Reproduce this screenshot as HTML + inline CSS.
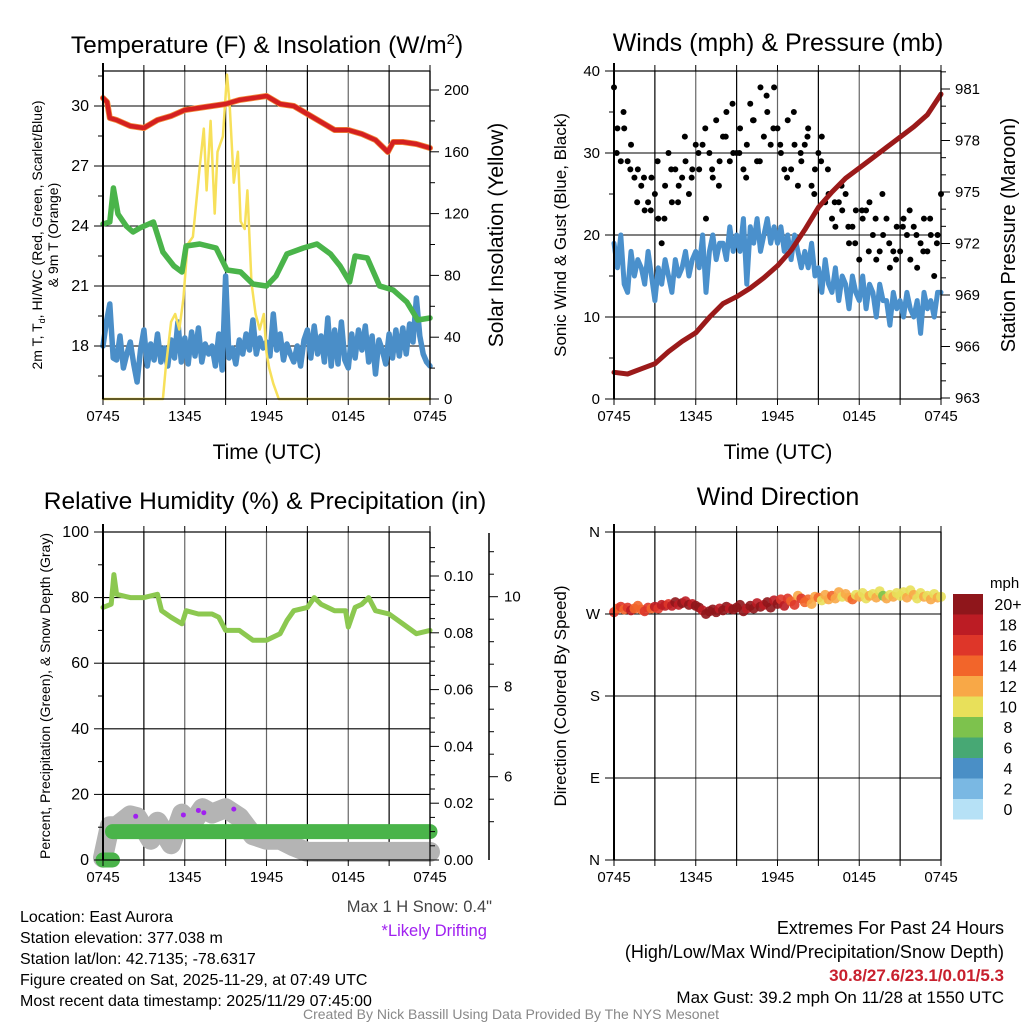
<!DOCTYPE html>
<html><head><meta charset="utf-8">
<style>
html,body{margin:0;padding:0;background:#fff;}
svg{display:block;font-family:"Liberation Sans",sans-serif;}
</style></head>
<body>
<svg id="fig" width="1024" height="1024" viewBox="0 0 1024 1024" xmlns="http://www.w3.org/2000/svg">
<rect x="0" y="0" width="1024" height="1024" fill="#fff"/>
<g id="bg"></g>
<g id="marks"></g>
<g id="fg"></g>
<text x="267" y="53" font-size="24.5" text-anchor="middle">Temperature (F) &amp; Insolation (W/m<tspan font-size="15" dy="-9">2</tspan><tspan dy="9">)</tspan></text>
<text x="778" y="51" font-size="25" text-anchor="middle">Winds (mph) &amp; Pressure (mb)</text>
<text x="265" y="509" font-size="24.5" text-anchor="middle">Relative Humidity (%) &amp; Precipitation (in)</text>
<text x="778" y="505" font-size="25" text-anchor="middle">Wind Direction</text>
<text x="267" y="459" font-size="21" text-anchor="middle">Time (UTC)</text>
<text x="778" y="459" font-size="21" text-anchor="middle">Time (UTC)</text>
<text transform="translate(42,235) rotate(-90)" font-size="14" text-anchor="middle">2m T, T<tspan font-size="9" dy="3">d</tspan><tspan dy="-3">, HI/WC (Red, Green, Scarlet/Blue)</tspan></text>
<text transform="translate(58,235) rotate(-90)" font-size="14" text-anchor="middle">&amp; 9m T (Orange)</text>
<text transform="translate(503,235) rotate(-90)" font-size="21" text-anchor="middle">Solar Insolation (Yellow)</text>
<text transform="translate(566,235) rotate(-90)" font-size="17" text-anchor="middle">Sonic Wind &amp; Gust (Blue, Black)</text>
<text transform="translate(1015,235) rotate(-90)" font-size="20" text-anchor="middle">Station Pressure (Maroon)</text>
<text transform="translate(50,696) rotate(-90)" font-size="14" text-anchor="middle">Percent, Precipitation (Green), &amp; Snow Depth (Gray)</text>
<text transform="translate(566,696) rotate(-90)" font-size="17" text-anchor="middle">Direction (Colored By Speed)</text>
<g font-size="16">
<text x="20" y="922">Location: East Aurora</text>
<text x="20" y="943">Station elevation: 377.038 m</text>
<text x="20" y="964">Station lat/lon: 42.7135; -78.6317</text>
<text x="20" y="985">Figure created on Sat, 2025-11-29, at 07:49 UTC</text>
<text x="20" y="1006">Most recent data timestamp: 2025/11/29 07:45:00</text>
</g>
<text x="492" y="912" font-size="16.5" fill="#444" text-anchor="end">Max 1 H Snow: 0.4"</text>
<text x="487" y="936" font-size="16.5" fill="#a020f0" text-anchor="end">*Likely Drifting</text>
<text x="1004" y="934" font-size="18" text-anchor="end">Extremes For Past 24 Hours</text>
<text x="1004" y="958" font-size="18" text-anchor="end">(High/Low/Max Wind/Precipitation/Snow Depth)</text>
<text x="1004" y="981" font-size="17" font-weight="bold" fill="#c8202e" text-anchor="end">30.8/27.6/23.1/0.01/5.3</text>
<text x="1004" y="1003" font-size="17" text-anchor="end">Max Gust: 39.2 mph On 11/28 at 1550 UTC</text>
<text x="511" y="1019" font-size="14" fill="#888" text-anchor="middle">Created By Nick Bassill Using Data Provided By The NYS Mesonet</text>
</svg>
<script>
const xTickLabels = ["0745","1345","1945","0145","0745"];
const tempHours = [0,0.3,0.5,1,2,3,4,5,6,7,8,9,10,11,12,13,14,15,16,17,18,19,20,20.9,21.3,22,23,24];
const tempValues = [30.4,30.2,29.4,29.3,29.0,28.9,29.3,29.5,29.8,29.9,30.0,30.1,30.3,30.4,30.5,30.1,30.0,29.6,29.2,28.8,28.8,28.6,28.3,27.7,28.2,28.2,28.1,27.9];
const dewHours = [0,0.5,0.76,1.1,1.7,2.2,2.7,3.7,4.4,5.2,5.8,6.1,7.1,8.3,9.1,10.1,11.0,12.0,12.7,13.5,14.7,15.7,16.7,17.4,18.1,18.5,19.4,20.3,21.3,22.3,23.1,24];
const dewValues = [24.1,24.2,25.9,24.6,24.0,23.7,23.9,24.2,22.7,22.0,21.7,23.0,23.1,22.9,21.8,21.7,21.1,21.0,21.5,22.6,22.9,23.1,22.6,22.0,21.2,22.5,22.4,21.0,20.8,20.2,19.3,19.4];
const chillValues = [18.0,19.2,20.1,17.4,17.3,18.5,16.9,17.6,18.2,17.1,16.2,17.8,18.8,17.0,18.1,17.3,18.6,17.2,17.9,17.0,18.3,17.4,19.2,17.2,18.4,17.1,18.7,17.5,18.9,17.2,18.1,17.6,18.0,17.0,18.6,16.8,21.5,17.4,17.9,17.1,18.3,17.6,18.6,17.8,19.3,17.6,18.4,17.9,18.2,17.5,19.6,17.8,18.6,17.3,18.1,17.6,17.2,18.0,17.0,18.3,18.8,17.4,19.0,17.6,18.5,17.2,19.4,17.0,18.8,17.1,19.2,17.3,16.9,18.6,17.4,18.8,17.8,19.0,17.2,18.5,16.6,18.3,17.8,17.1,18.6,17.4,18.8,17.5,18.9,17.6,19.1,18.2,20.4,18.5,17.6,17.2,17.0];
const solarHours = [0,4.4,4.6,5.0,5.3,5.6,5.9,6.2,6.6,7.1,7.4,7.6,7.9,8.2,8.4,8.8,9.1,9.3,9.6,9.9,10.1,10.4,10.6,10.9,11.2,11.5,11.8,12.0,12.2,12.5,12.9,24];
const solarValues = [0,0,20,50,55,45,65,100,105,150,175,135,180,120,160,170,210,190,140,160,115,110,135,75,55,45,55,30,20,10,0,0];
const windValues = [19,16,20,14,13,18,15,17,16,14,18,15,12,16,14,17,15,13,17,15,16,18,15,17,18,16,20,13,18,20,17,19,19,17,21,18,20,18,22,14,21,19,22,18,20,22,19,21,19,21,18,20,17,20,18,16,18,16,19,15,16,13,17,14,13,16,12,15,14,11,15,13,12,15,11,14,13,10,14,12,12,9,13,11,12,10,13,11,10,12,8,13,11,12,10,13,13];
const gustValues = [38,33,29,33,29,31,27,28,26,23,24,27,25,22,19,26,30,24,28,26,27,29,25,28,31,28,31,22,30,27,34,29,32,35,29,30,30,33,28,31,36,34,29,38,32,35,31,38,33,30,28,34,28,31,26,29,31,33,26,28,30,32,24,25,22,21,24,23,25,19,21,23,17,22,23,24,20,17,18,20,22,16,18,21,18,22,20,17,21,16,19,22,18,20,15,20,25];
const gust2Values = [30,35,28,24,27,23,29,22,28,24,32,27,30,33,28,26,32,36,30,27,34,29,37,33,31,27,35,30,32,25,29,28,24,26,21,19,23,18,22,25,19,17,21,23,20,18,22,19];
const pressureValues = [964.5,964.4,964.7,965.0,965.7,966.3,966.8,967.7,968.5,968.9,969.4,970.0,970.7,971.6,972.8,974.1,975.0,975.8,976.4,977.0,977.6,978.2,978.8,979.5,980.7];
const rhHours = [0,0.6,0.8,1.0,2,3,4,4.3,5,5.8,6.1,7,8,8.5,9,10,11,12,13,13.5,14,15,15.5,16,17,17.8,18,18.5,19,19.5,20,21,22,23,24];
const rhValues = [77,78,87,81,80,80,81,76,74,72,76,75,75,74,70,70,67,67,69,73,76,77,80,78,76,76,71,77,78,80,76,75,72,69,70];
const precipHours = [0,0.7,0.7,24];
const precipValues = [0,0,0.01,0.01];
const snowHours = [0,0.5,1,2,2.5,3.5,4,5,5.8,6.5,7.3,8,9,10,11,12,13,14,15,24];
const snowValues = [4.2,4.9,4.9,5.14,5.1,4.6,5.0,4.5,5.18,4.95,5.3,5.18,5.3,5.1,4.7,4.6,4.6,4.45,4.33,4.33];
const driftHours = [2.4,5.9,7.0,7.4,9.6];
const driftValues = [5.12,5.15,5.25,5.2,5.28];
const dirValues = [272,276,278,275,277,274,276,279,275,273,277,276,278,276,280,279,281,279,283,280,282,284,280,281,279,277,274,270,273,275,272,276,274,278,276,275,277,280,273,276,279,276,282,278,280,283,277,285,281,286,279,287,284,280,290,287,283,286,281,289,288,285,291,286,290,287,294,289,292,288,286,291,289,293,287,290,292,288,295,290,287,291,289,293,290,294,288,296,291,287,293,289,290,286,292,288,289];
const speedValues = [17,15,16,14,16,18,15,14,15,17,16,15,18,17,19,18,17,19,20,18,20,19,21,18,20,21,19,20,21,20,22,19,20,21,19,22,21,20,21,19,20,21,18,20,19,21,20,18,20,17,19,16,15,17,13,16,14,15,12,13,14,11,13,12,15,12,13,11,13,12,14,11,12,10,11,13,10,12,11,9,12,10,13,11,11,10,12,10,13,11,10,12,11,12,10,13,11];
const speedBinLabels = ["20+","18","16","14","12","10","8","6","4","2","0"];
const speedBinColors = ["#8f161b","#bc1c24","#de3629","#f2652a","#f8a847","#e8e05a","#7dc24d","#47a874","#4a8fc6","#7ab8e3","#b6e1f6"];

const NS="http://www.w3.org/2000/svg";
const bg=document.getElementById('bg'), marks=document.getElementById('marks'), fg=document.getElementById('fg');
function mk(parent,tag,attrs,txt){const e=document.createElementNS(NS,tag);for(const k in attrs)e.setAttribute(k,attrs[k]);if(txt!==undefined)e.textContent=txt;parent.appendChild(e);return e;}
function scale(d0,d1,r0,r1){return v=>r0+(v-d0)/(d1-d0)*(r1-r0);}
const P={tl:{x0:103,x1:430,y0:71,y1:399},tr:{x0:614,x1:941,y0:71,y1:399},bl:{x0:103,x1:430,y0:532,y1:860},br:{x0:614,x1:941,y0:532,y1:860}};
function linePath(xs,ys,fx,fy){return xs.map((h,i)=>((i==0||h===xs[i-1])?'M':'L')+fx(h).toFixed(1)+','+fy(ys[i]).toFixed(1)).join('');}
function idxHours(arr,step){return arr.map((_,i)=>i*step);}

function frame(p,name){
  const fx=scale(0,24,p.x0,p.x1);
  for(let k=0;k<=8;k++){
    const x=fx(k*3);
    const g=mk(bg,'line',{x1:x,x2:x,y1:p.y0,y2:p.y1,stroke:(k%2==0&&k>0&&k<8)?'#666':'#000','stroke-width':1.2});
    
    
    const t=mk(fg,'line',{x1:x,x2:x,y1:p.y1,y2:p.y1+6,stroke:'#000','stroke-width':1});
    
    
    const t2=mk(fg,'line',{x1:x,x2:x,y1:p.y0-6,y2:p.y0,stroke:'#000','stroke-width':1});
    
    
  }
  xTickLabels.forEach((s,i)=>{
    const l=mk(fg,'text',{x:fx(i*6),y:p.y1+22,'font-size':15,'text-anchor':'middle'},s);
    
    
  });
  const b=mk(fg,'rect',{x:p.x0,y:p.y0,width:p.x1-p.x0,height:p.y1-p.y0,fill:'none',stroke:'#000','stroke-width':1.2});
  
  
  const lft=mk(fg,'line',{x1:p.x0,x2:p.x0,y1:p.y0-8,y2:p.y1,stroke:'#000','stroke-width':2});
  
  
  return fx;
}
function yAxis(p,name,vals,fy,labels,side,minor,grid,fs){
  const x=side=='l'?p.x0:p.x1;const dir=side=='l'?-1:1;
  vals.forEach((v,i)=>{
    const y=fy(v);
    if(grid){const g=mk(bg,'line',{x1:p.x0,x2:p.x1,y1:y,y2:y,stroke:'#000','stroke-width':1.1});
      
      }
    const t=mk(fg,'line',{x1:x,x2:x+dir*9,y1:y,y2:y,stroke:'#000','stroke-width':1});
    
    
    const l=mk(fg,'text',{x:x+dir*14,y:y+5,'font-size':fs||15,'text-anchor':side=='l'?'end':'start'},labels[i]);
    
    
  });
  (minor||[]).forEach(v=>{const y=fy(v);
    const t=mk(fg,'line',{x1:x,x2:x+dir*5,y1:y,y2:y,stroke:'#000','stroke-width':1});
    
    });
}
function path(d,color,w,name){
  const e=mk(marks,'path',{d:d,fill:'none',stroke:color,'stroke-width':w,'stroke-linejoin':'round','stroke-linecap':'round'});
  
  
  return e;
}

{const p=P.tl;const fx=frame(p,'temp');
 const fy=scale(15.35,31.75,p.y1,p.y0), fs=scale(0,200,399,90);
 yAxis(p,'temp',[18,21,24,27,30],fy,["18","21","24","27","30"],'l',[16.5,19.5,22.5,25.5,28.5,31.5],true,16);
 const sv=[0,40,80,120,160,200];yAxis(p,'solar',sv,fs,sv.map(String),'r',[20,60,100,140,180],false,15);
 path(linePath(idxHours(chillValues,0.25),chillValues,fx,fy),'#4a8ec8',5.5,'windchill-line');
 path(linePath(solarHours,solarValues,fx,fs),'#f7e05a',2.5,'solar-line');
 path(linePath(dewHours,dewValues,fx,fy),'#4ab44a',5.5,'dewpoint-line');
 path(linePath(tempHours,tempValues,fx,fy),'#f28c3a',6,'temp-9m-line');
 path(linePath(tempHours,tempValues,fx,fy),'#d42020',4.5,'temp-2m-line');
}
{const p=P.tr;const fx=frame(p,'winds');
 const fy=scale(0,40,p.y1,p.y0), fp=scale(963,981,398,89);
 yAxis(p,'wind',[0,10,20,30,40],fy,["0","10","20","30","40"],'l',[5,15,25,35],true,15);
 const pv=[963,966,969,972,975,978,981];yAxis(p,'pressure',pv,fp,pv.map(String),'r',[964,965,967,968,970,971,973,974,976,977,979,980,982],false,15);
 path(linePath(idxHours(windValues,0.25),windValues,fx,fy),'#4a90cc',5,'sonic-wind-line');
 gustValues.forEach((v,i)=>{const c=mk(marks,'circle',{cx:fx(i*0.25),cy:fy(v),r:3,fill:'#000'});
   
   });
 gust2Values.forEach((v,i)=>{const c=mk(marks,'circle',{cx:fx(i*0.5+0.2),cy:fy(v),r:3,fill:'#000'});
   
   });
 path(linePath(idxHours(pressureValues,1),pressureValues,fx,fp),'#9b1a1a',5,'pressure-line');
}
{const p=P.bl;const fx=frame(p,'humidity');
 const fy=scale(0,100,p.y1,p.y0), fpr=scale(0,0.1,860,576), fsn=scale(10,6,596.7,776.7);
 yAxis(p,'humidity',[0,20,40,60,80,100],fy,["0","20","40","60","80","100"],'l',[10,30,50,70,90],true,16);
 const prv=[0,0.02,0.04,0.06,0.08,0.1];yAxis(p,'precip',prv,fpr,prv.map(v=>v.toFixed(2)),'r',[0.005,0.01,0.015,0.025,0.03,0.035,0.045,0.05,0.055,0.065,0.07,0.075,0.085,0.09,0.095,0.105,0.11],false,15);
 const ax=mk(fg,'line',{x1:489,x2:489,y1:533,y2:860,stroke:'#000','stroke-width':1.5});
 
 
 [6,8,10].forEach(v=>{const t=mk(fg,'line',{x1:489,x2:498,y1:fsn(v),y2:fsn(v),stroke:'#000'});
   
   
   const l=mk(fg,'text',{x:504,y:fsn(v)+5,'font-size':15},String(v));
   
   });
 [5,5.5,6.5,7,7.5,8.5,9,9.5,10.5,11].forEach(v=>{const t=mk(fg,'line',{x1:489,x2:494,y1:fsn(v),y2:fsn(v),stroke:'#000'});
   
   });
 path(linePath(snowHours,snowValues,fx,fsn),'#b4b4b4',20,'snow-depth-line');
 path(linePath(precipHours,precipValues,fx,fpr),'#4ab44a',15,'precip-line');
 driftHours.forEach((h,i)=>{const c=mk(marks,'circle',{cx:fx(h),cy:fsn(driftValues[i]),r:2.5,fill:'#a020f0'});
   
   });
 path(linePath(rhHours,rhValues,fx,fy),'#8cc850',5,'rh-line');
}
{const p=P.br;const fx=frame(p,'direction');
 const fy=scale(0,360,p.y1,p.y0);
 yAxis(p,'direction',[0,90,180,270,360],fy,["N","E","S","W","N"],'l',[],true,15);
 function col(s){let k=Math.min(10,Math.floor(s/2));return speedBinColors[10-k];}
 dirValues.forEach((d,i)=>{const c=mk(marks,'circle',{cx:fx(i*0.25),cy:fy(d),r:5,fill:col(speedValues[i]),'fill-opacity':0.9});
   
   });
 const ml=mk(fg,'text',{x:990,y:588,'font-size':15},'mph');
 
 
 speedBinColors.forEach((c,i)=>{const r=mk(fg,'rect',{x:953,y:594+i*20.5,width:30,height:20.5,fill:c});
   
   
   const l=mk(fg,'text',{x:1008,y:594+i*20.5+16,'font-size':16,'text-anchor':'middle'},speedBinLabels[i]);
   
   });
}
</script>
</body></html>
